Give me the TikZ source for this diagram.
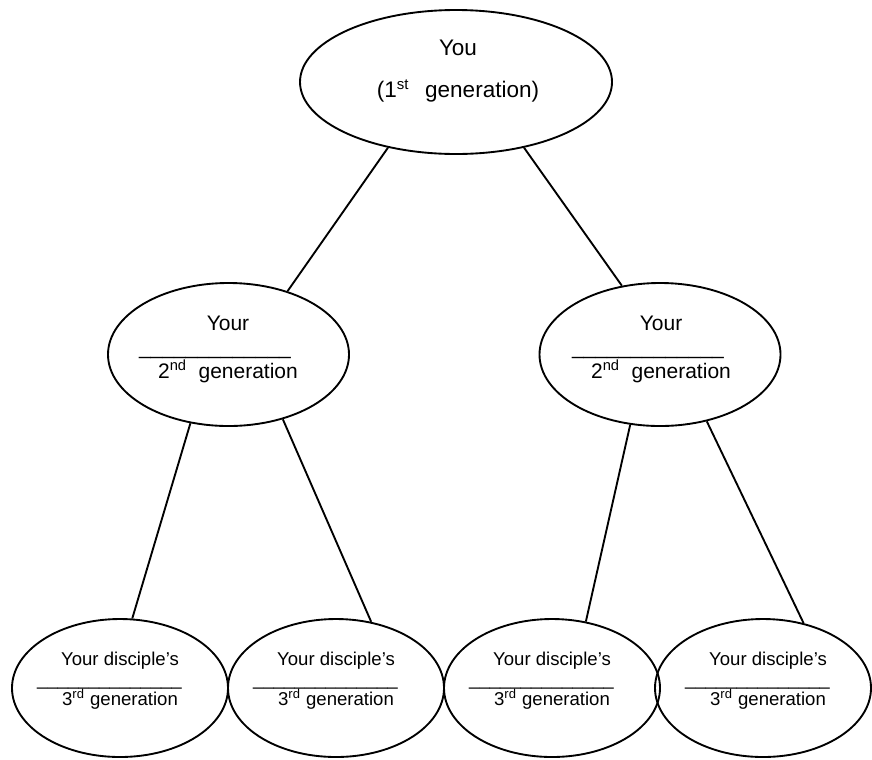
\documentclass[tikz,border=0pt]{standalone}
\usepackage{fontspec}
\setmainfont{Liberation Sans}
\usepackage{tikz}
\usetikzlibrary{shapes.geometric}
\newcommand{\px}{0.533pt}

\begin{document}
\begin{tikzpicture}[x=\px,y=-\px,line width=1pt,
  gen/.style={draw,ellipse,inner sep=0pt},
  txt/.style={align=center,inner sep=0pt}]
\useasboundingbox (0,0) rectangle (872,759);
\node[gen,minimum width=312*\px,minimum height=144*\px] (you) at (456,82) {};
\node[gen,minimum width=241*\px,minimum height=143*\px] (gen2a) at (228.5,354.5) {};
\node[gen,minimum width=241*\px,minimum height=143*\px] (gen2b) at (660,354.5) {};
\foreach \n/\x in {gen3a/120,gen3b/336,gen3c/552,gen3d/763}{
\node[gen,minimum width=216*\px,minimum height=138*\px] (\n) at (\x,688) {};
}

\node[txt,font=\fontsize{12}{22.4}\selectfont] (you-text) at (458,71.3)
  {You\\(1\textsuperscript{st}\hspace{5pt} generation)};
\foreach \n/\x in {gen2a/228,gen2b/661}{
\node[txt,font=\fontsize{11.2}{12.8}\selectfont] (\n-text) at (\x,349.2)
  {Your\\\_\_\_\_\_\_\_\_\_\_\_\_\_\kern13.9pt\\2\textsuperscript{nd}\hspace{3pt} generation};
}
\foreach \n/\x in {gen3a/120,gen3b/336,gen3c/552,gen3d/768}{
\node[txt,font=\fontsize{9.9}{10.7}\selectfont] (\n-text) at (\x,680.9)
  {Your disciple’s\\\_\_\_\_\_\_\_\_\_\_\_\_\_\_\kern11.2pt\\3\textsuperscript{rd} generation};
}

\draw (you.224) -- (gen2a.47);
\draw (you.316) -- (gen2b.119);
\draw (gen2a.241) -- (gen3a.80);
\draw (gen2a.310) -- (gen3b.62);
\draw (gen2b.247) -- (gen3c.63);
\draw (gen2b.305) -- (gen3d.58);
\end{tikzpicture}
\end{document}
